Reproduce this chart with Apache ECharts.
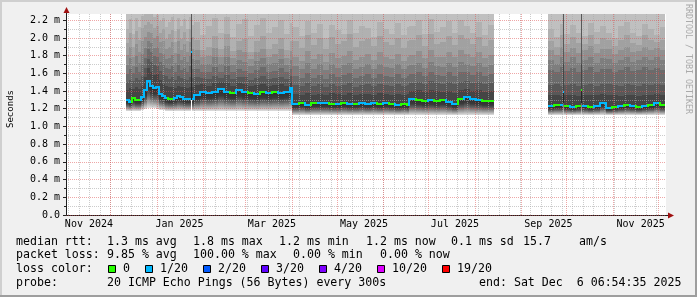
<!DOCTYPE html>
<html><head><meta charset="utf-8">
<script src="https://cdn.jsdelivr.net/npm/echarts@6/dist/echarts.min.js"></script>
<style>html,body{margin:0;padding:0;background:#f0f0f0}#c{width:697px;height:297px}</style>
</head><body><div id="c"></div>
<script>
// time in days since 2024-11-01 06:54:35 (graph spans 400 days, end 2025-12-06 06:54:35)
const days = [40,42,44,46,48,50,52,54,56,58,60,62,64,66,68,70,72,74,76,78,80,82,83,84,
  85.3,89,93,97,101,105,109,113,117,121,125,129,133,137,141,145,149,
  150.7,155,159,163,167,171,175,179,183,187,191,195,199,203,207,211,215,219,223,227,
  228.7,233,237,241,245,249,253,257,261,265,269,273,277,281,
  285.3,
  321.3,325,329,331.3,332,336,340,343.3,344,348,352,356,360,364,368,372,376,380,384,388,392,396,
  399.3];
// median rtt (ms)
const median = [1.30,1.28,1.32,1.30,1.30,1.33,1.41,1.51,1.46,1.43,1.45,1.37,1.34,1.32,1.31,1.31,1.32,1.34,1.33,1.31,1.31,1.31,1.84,1.31,
  1.36,1.39,1.38,1.39,1.42,1.39,1.38,1.41,1.39,1.38,1.37,1.39,1.38,1.39,1.38,1.39,1.43,
  1.25,1.26,1.24,1.27,1.26,1.26,1.25,1.25,1.26,1.25,1.25,1.26,1.25,1.26,1.25,1.26,1.25,1.24,1.25,1.24,
  1.31,1.30,1.29,1.30,1.29,1.30,1.28,1.25,1.31,1.33,1.31,1.30,1.29,1.29,
  null,
  1.23,1.24,1.24,1.39,1.23,1.22,1.23,1.41,1.23,1.22,1.23,1.27,1.21,1.22,1.23,1.24,1.23,1.22,1.23,1.24,1.27,1.24,
  null];
// loss class index (0 = no loss, 1 = 1/20)
const loss = [1,1,0,0,0,1,1,1,1,1,1,1,1,1,0,0,1,1,1,1,1,1,1,1,
  1,1,1,1,1,1,0,1,1,0,1,0,1,0,1,1,1,
  1,0,1,0,1,1,0,1,0,1,0,1,1,1,0,1,0,1,0,0,
  1,0,0,1,0,0,1,1,0,1,1,1,0,0,
  null,
  1,0,1,1,0,1,0,0,1,0,1,1,1,0,1,0,1,0,1,0,1,0,
  null];
// fastest ping (ms)
const minRtt = [1.18,1.18,1.18,1.18,1.18,1.19,1.20,1.21,1.21,1.21,1.20,1.19,1.19,1.18,1.18,1.18,1.18,1.18,1.18,1.18,1.18,1.18,1.30,1.18,
  1.18,1.18,1.18,1.18,1.18,1.18,1.18,1.18,1.18,1.18,1.18,1.18,1.18,1.18,1.18,1.18,1.18,
  1.13,1.13,1.13,1.13,1.13,1.13,1.13,1.13,1.13,1.13,1.13,1.13,1.13,1.13,1.13,1.13,1.13,1.13,1.13,1.13,
  1.13,1.13,1.13,1.13,1.13,1.13,1.13,1.13,1.13,1.13,1.13,1.13,1.13,1.13,
  null,
  1.13,1.13,1.13,1.13,1.13,1.13,1.13,1.13,1.13,1.13,1.13,1.13,1.13,1.13,1.13,1.13,1.13,1.13,1.13,1.13,1.13,1.13,
  null];
// upper smoke band edges (slower pings), outer (3) to inner (9)
const smoke3 = [2.10,2.21,2.04,2.23,2.12,2.25,2.27,2.30,2.28,2.24,2.26,2.19,2.23,2.12,2.18,2.24,2.08,2.22,2.13,2.21,2.10,2.24,2.40,2.15,
  2.18,2.03,2.14,2.22,2.05,2.24,2.01,2.16,2.21,2.02,2.15,2.23,2.06,2.12,2.20,2.04,2.17,
  2.12,2.02,2.19,2.06,2.16,2.00,2.15,2.09,2.04,2.20,2.05,2.14,2.11,2.01,2.18,2.10,2.04,2.17,2.03,2.12,
  2.14,2.20,2.04,2.21,2.07,2.12,2.19,2.05,2.20,2.13,2.06,2.18,2.03,2.15,
  null,
  2.10,2.01,2.16,2.40,2.04,2.15,2.06,2.40,2.02,2.17,2.07,2.13,2.05,2.00,2.14,2.18,2.05,2.02,2.16,2.10,2.03,2.12,
  null];
const smoke4 = [1.94,2.05,1.90,2.08,1.98,2.11,2.15,2.18,2.16,2.11,2.14,2.06,2.10,1.99,2.04,2.09,1.95,2.10,1.99,2.07,1.96,2.10,2.40,2.01,
  1.98,1.86,1.90,2.02,1.88,2.04,1.85,1.97,1.99,1.84,1.96,2.02,1.87,1.93,2.00,1.86,1.97,
  1.96,1.89,2.03,1.92,2.00,1.87,2.01,1.93,1.97,2.04,1.90,1.97,1.99,1.91,2.02,1.95,1.92,2.00,1.89,1.96,
  1.98,2.03,1.91,2.04,1.93,1.95,2.02,1.92,2.03,1.99,1.93,2.01,1.91,1.98,
  null,
  1.97,1.90,2.03,2.40,1.93,2.01,1.94,2.40,1.93,2.03,1.93,2.00,1.98,1.91,1.98,2.03,1.94,1.92,2.03,1.98,1.95,1.98,
  null];
const smoke5 = [1.81,1.90,1.78,1.93,1.84,1.96,2.01,2.07,2.05,2.00,2.02,1.95,1.96,1.87,1.90,1.95,1.83,1.96,1.86,1.93,1.84,1.95,2.40,1.87,
  1.86,1.78,1.80,1.89,1.78,1.91,1.77,1.86,1.84,1.76,1.84,1.88,1.78,1.82,1.87,1.77,1.85,
  1.79,1.74,1.85,1.76,1.82,1.73,1.83,1.77,1.80,1.85,1.75,1.78,1.82,1.75,1.84,1.79,1.76,1.82,1.74,1.79,
  1.81,1.85,1.77,1.86,1.79,1.79,1.84,1.78,1.86,1.82,1.79,1.84,1.77,1.81,
  null,
  1.86,1.81,1.90,2.40,1.84,1.89,1.83,2.40,1.86,1.91,1.83,1.88,1.87,1.82,1.86,1.90,1.84,1.85,1.90,1.86,1.89,1.86,
  null];
const smoke6 = [1.69,1.77,1.68,1.80,1.72,1.82,1.89,1.96,1.94,1.89,1.90,1.83,1.82,1.76,1.77,1.81,1.72,1.82,1.75,1.79,1.73,1.80,2.40,1.76,
  1.75,1.70,1.71,1.78,1.71,1.79,1.69,1.75,1.73,1.68,1.74,1.77,1.70,1.72,1.76,1.69,1.75,
  1.68,1.65,1.72,1.65,1.70,1.64,1.71,1.66,1.69,1.72,1.65,1.67,1.71,1.65,1.71,1.67,1.66,1.70,1.65,1.68,
  1.69,1.72,1.66,1.73,1.68,1.67,1.72,1.67,1.73,1.71,1.68,1.72,1.67,1.69,
  null,
  1.75,1.71,1.78,2.40,1.73,1.78,1.72,2.40,1.75,1.79,1.72,1.77,1.76,1.72,1.75,1.78,1.73,1.75,1.79,1.75,1.78,1.75,
  null];
const smoke7 = [1.59,1.65,1.60,1.67,1.62,1.69,1.77,1.87,1.84,1.80,1.79,1.73,1.70,1.66,1.65,1.68,1.62,1.69,1.64,1.66,1.62,1.68,2.40,1.65,
  1.65,1.62,1.62,1.67,1.62,1.68,1.61,1.65,1.63,1.60,1.64,1.67,1.61,1.63,1.66,1.61,1.65,
  1.57,1.55,1.60,1.55,1.58,1.54,1.59,1.56,1.58,1.60,1.55,1.57,1.59,1.55,1.59,1.57,1.56,1.59,1.55,1.57,
  1.59,1.61,1.57,1.62,1.58,1.57,1.61,1.57,1.62,1.61,1.58,1.61,1.57,1.59,
  null,
  1.64,1.61,1.67,2.40,1.63,1.66,1.62,2.40,1.64,1.67,1.62,1.65,1.65,1.62,1.64,1.67,1.63,1.64,1.67,1.64,1.66,1.64,
  null];
const smoke8 = [1.50,1.53,1.51,1.55,1.52,1.57,1.66,1.76,1.73,1.69,1.68,1.63,1.58,1.57,1.54,1.56,1.53,1.57,1.55,1.54,1.53,1.56,2.30,1.55,
  1.56,1.55,1.54,1.57,1.55,1.58,1.54,1.56,1.56,1.53,1.55,1.57,1.54,1.55,1.56,1.54,1.57,
  1.47,1.46,1.49,1.46,1.48,1.45,1.48,1.46,1.47,1.49,1.45,1.47,1.48,1.46,1.48,1.47,1.46,1.48,1.46,1.47,
  1.49,1.50,1.48,1.51,1.49,1.48,1.50,1.48,1.50,1.51,1.49,1.50,1.48,1.49,
  null,
  1.47,1.48,1.46,2.30,1.47,1.48,1.46,2.30,1.47,1.48,1.46,1.48,1.48,1.47,1.46,1.48,1.47,1.46,1.48,1.47,1.48,1.47,
  null];
const smoke9 = [1.41,1.43,1.42,1.44,1.42,1.46,1.56,1.66,1.62,1.58,1.59,1.52,1.48,1.46,1.44,1.45,1.43,1.46,1.45,1.44,1.43,1.45,2.00,1.44,
  1.47,1.48,1.46,1.49,1.50,1.49,1.46,1.49,1.48,1.46,1.47,1.48,1.46,1.47,1.48,1.46,1.50,
  1.37,1.36,1.38,1.36,1.37,1.35,1.38,1.37,1.36,1.38,1.36,1.37,1.37,1.36,1.38,1.37,1.36,1.37,1.36,1.37,
  1.40,1.41,1.39,1.41,1.40,1.39,1.40,1.38,1.41,1.42,1.40,1.41,1.39,1.40,
  null,
  1.35,1.36,1.34,1.70,1.35,1.36,1.34,1.70,1.35,1.36,1.35,1.37,1.36,1.35,1.34,1.36,1.35,1.34,1.36,1.35,1.37,1.35,
  null];
// short dense spikes
const spikeDays = [83, 331.3, 343.3];
const spikeEnd = [84, 332, 344];
const spikeLow = [1.30, 1.26, 1.26];
const spikeMedian = [1.84, 1.39, 1.41];
const spikeLoss = [1, 1, 0];

const yTicks = [0,0.2,0.4,0.6,0.8,1.0,1.2,1.4,1.6,1.8,2.0,2.2];
const yMinorTicks = [0.1,0.3,0.5,0.7,0.9,1.1,1.3,1.5,1.7,1.9,2.1];
const xLabels = ['Nov 2024','Jan 2025','Mar 2025','May 2025','Jul 2025','Sep 2025','Nov 2025'];
const xLabelDays = [15.3, 75.7, 137.3, 198.7, 259.3, 321.6, 383.1];
const monthDays = [29.71,60.71,91.71,119.71,150.71,180.71,211.71,241.71,272.71,303.71,333.71,364.71,394.71];
const weekDays = []; for (let d = 1.71; d < 400; d += 7) weekDays.push(+d.toFixed(2));
const lossLabels = ['0','1/20','2/20','3/20','4/20','10/20','19/20'];
const lossColors = ['#26ff00','#00b8ff','#0059ff','#5e00ff','#7e00ff','#dd00ff','#ff0000'];

const Y_MAX = 2.27;
const SMOKE_TOP = '#c0c0c0';
const SMOKE_COLORS = ['#b1b1b1','#a1a1a1','#909090','#7e7e7e','#6b6b6b','#585858','#454545'];
const FONT = '"DejaVu Sans Mono", monospace';

const smokeData = [], lineData = [];
const isSpike = i => spikeDays.indexOf(days[i]) >= 0;
for (let i = 0; i < days.length - 1; i++) {
  if (median[i] == null) continue;
  smokeData.push([days[i], days[i+1], median[i], minRtt[i], smoke3[i], smoke4[i], smoke5[i], smoke6[i], smoke7[i], smoke8[i], smoke9[i]]);
  if (isSpike(i)) continue;
  let prev = NaN;
  if (i > 0 && median[i-1] != null && !isSpike(i-1)) prev = median[i-1];
  lineData.push([days[i], days[i+1], median[i], loss[i], prev]);
}
const spikeData = spikeDays.map((d, i) => [d, spikeEnd[i], spikeMedian[i], spikeLow[i], spikeLoss[i]]);

function lowGrad() {
  return {type:'linear', x:0, y:0, x2:0, y2:1, colorStops:[
    {offset:0, color:'#2e2e2e'},{offset:0.3, color:'#3a3a3a'},{offset:0.55, color:'#686868'},
    {offset:0.8, color:'#a8a8a8'},{offset:1, color:'#e0e0e0'}]};
}
function renderSmoke(params, api) {
  const d0 = api.value(0), d1 = api.value(1);
  const xa = Math.round(api.coord([d0, 0])[0]);
  const xb = Math.round(api.coord([d1, 0])[0]);
  const w = Math.max(1, xb - xa);
  const Y = v => Math.round(api.coord([d0, Math.min(v, Y_MAX)])[1]);
  const yTop = Y(Y_MAX), yMed = Y(api.value(2)), yMin = Y(api.value(3));
  const kids = [{type:'rect', shape:{x:xa, y:yTop, width:w, height:yMed - yTop}, style:{fill:SMOKE_TOP}}];
  for (let k = 0; k < 7; k++) {
    const yu = Y(api.value(4 + k));
    if (yMed > yu) kids.push({type:'rect', shape:{x:xa, y:yu, width:w, height:yMed - yu}, style:{fill:SMOKE_COLORS[k]}});
  }
  if (yMin > yMed) kids.push({type:'rect', shape:{x:xa, y:yMed, width:w, height:yMin - yMed}, style:{fill:lowGrad()}});
  return {type:'group', children:kids};
}
function renderLine(params, api) {
  const d0 = api.value(0), d1 = api.value(1);
  const xa = Math.round(api.coord([d0, 0])[0]);
  const xb = Math.round(api.coord([d1, 0])[0]);
  const y = Math.round(api.coord([d0, api.value(2)])[1]);
  const col = lossColors[api.value(3)];
  const kids = [{type:'line', shape:{x1:xa, y1:y, x2:xb, y2:y}, style:{stroke:col, lineWidth:2}}];
  const p = api.value(4);
  if (!isNaN(p)) {
    const yp = Math.round(api.coord([d0, p])[1]);
    if (yp !== y) kids.push({type:'line', shape:{x1:xa, y1:Math.min(y, yp) - 1, x2:xa, y2:Math.max(y, yp) + 1}, style:{stroke:col, lineWidth:2}});
  }
  return {type:'group', children:kids};
}
function renderSpike(params, api) {
  const d0 = api.value(0), d1 = api.value(1);
  const xa = Math.round(api.coord([d0, 0])[0]);
  const xb = Math.round(api.coord([d1, 0])[0]);
  const w = Math.max(1, xb - xa);
  const yMed = Math.round(api.coord([d0, api.value(2)])[1]);
  const yLow = Math.round(api.coord([d0, api.value(3)])[1]);
  return {type:'group', children:[
    {type:'rect', shape:{x:xa, y:yMed, width:w, height:yLow - yMed}, style:{fill:'#262626'}},
    {type:'rect', shape:{x:xa, y:yMed - 1, width:w, height:2}, style:{fill:lossColors[api.value(4)]}}
  ]};
}

const gridLine = (color) => ({show:true, lineStyle:{color:color, width:1, type:'dotted'}});
const hiddenAxis = {axisLine:{show:false}, axisLabel:{show:false}};

const option = {
  animation:false,
  backgroundColor:'#f0f0f0',
  grid:{left:66, top:14, width:600, height:201, show:true, backgroundColor:'#ffffff', borderWidth:0, containLabel:false, outerBoundsMode:'none'},
  xAxis:[
    {type:'value', min:0, max:400, position:'bottom', z:3,
     axisLine:{show:true, lineStyle:{color:'#202020', width:1}},
     axisTick:{show:false, customValues:xLabelDays},
     axisLabel:{customValues:xLabelDays, margin:4, color:'#000', fontFamily:FONT, fontSize:10,
       formatter:v => xLabels[xLabelDays.indexOf(v)] || ''},
     splitLine:{show:false}},
    Object.assign({type:'value', min:0, max:400, position:'bottom', z:3,
     axisTick:{show:false, customValues:weekDays}, splitLine:gridLine('rgba(170,170,170,0.6)')}, hiddenAxis),
    Object.assign({type:'value', min:0, max:400, position:'bottom', z:3,
     axisTick:{show:false, customValues:monthDays}, splitLine:gridLine('rgba(222,80,80,0.5)')}, hiddenAxis)
  ],
  yAxis:[
    {type:'value', min:0, max:Y_MAX, position:'left', z:4,
     axisLine:{show:true, lineStyle:{color:'#202020', width:1}},
     axisTick:{show:true, length:3, customValues:yTicks, lineStyle:{color:'#202020'}},
     axisLabel:{customValues:yTicks, margin:6, color:'#000', fontFamily:FONT, fontSize:10,
       formatter:v => v === 0 ? '0.0' : v.toFixed(1) + ' m'},
     splitLine:gridLine('rgba(222,80,80,0.5)')},
    {type:'value', min:0, max:Y_MAX, position:'left', z:3,
     axisLine:{show:false}, axisLabel:{show:false},
     axisTick:{show:true, length:2, customValues:yMinorTicks, lineStyle:{color:'#202020'}},
     splitLine:gridLine('rgba(170,170,170,0.6)')}
  ],
  series:[
    {type:'custom', name:'smoke', xAxisIndex:0, yAxisIndex:0, z:1, clip:true, silent:true,
     renderItem:renderSmoke, data:smokeData},
    {type:'custom', name:'spikes', xAxisIndex:0, yAxisIndex:0, z:5, clip:true, silent:true,
     renderItem:renderSpike, data:spikeData},
    {type:'custom', name:'median', xAxisIndex:0, yAxisIndex:0, z:6, clip:true, silent:true,
     renderItem:renderLine, data:lineData}
  ],
  graphic:[]
};

// frame, arrows and texts
const G = option.graphic;
G.push({type:'rect', z:100, shape:{x:0, y:0, width:697, height:2}, style:{fill:'#cfcfcf'}});
G.push({type:'rect', z:100, shape:{x:0, y:0, width:2, height:297}, style:{fill:'#cfcfcf'}});
G.push({type:'rect', z:100, shape:{x:0, y:295, width:697, height:2}, style:{fill:'#9e9e9e'}});
G.push({type:'rect', z:100, shape:{x:695, y:0, width:2, height:297}, style:{fill:'#9e9e9e'}});
G.push({type:'line', z:100, shape:{x1:66.5, y1:14, x2:66.5, y2:11}, style:{stroke:'#202020', lineWidth:1}});
G.push({type:'line', z:100, shape:{x1:666, y1:215.5, x2:669, y2:215.5}, style:{stroke:'#202020', lineWidth:1}});
G.push({type:'polygon', z:100, shape:{points:[[66.5,7],[63.5,13],[69.5,13]]}, style:{fill:'#a01010'}});
G.push({type:'polygon', z:100, shape:{points:[[674,215.5],[668,212.5],[668,218.5]]}, style:{fill:'#a01010'}});
G.push({type:'text', z:100, x:10.5, y:109, rotation:Math.PI/2,
  style:{text:'Seconds', font:'9px ' + FONT, fill:'#000', align:'center', verticalAlign:'middle'}});
G.push({type:'text', z:100, x:688, y:59, rotation:-Math.PI/2,
  style:{text:'RRDTOOL / TOBI OETIKER', font:'8.3px ' + FONT, fill:'#aaaaaa', align:'center', verticalAlign:'middle'}});

const LFONT = '11.6px ' + FONT;
const CH = 7;
const rows = [
  [241.5, [[16,'median rtt:'],[107,'1.3 ms avg'],[193,'1.8 ms max'],[279,'1.2 ms min'],[366,'1.2 ms now'],[451,'0.1 ms sd'],[523,'15.7'],[579,'am/s']]],
  [255.2, [[16,'packet loss:'],[107,'9.85 % avg'],[193,'100.00 % max'],[293,'0.00 % min'],[380,'0.00 % now']]],
  [269, [[16,'loss color:']]],
  [282.8, [[16,'probe:'],[107,'20 ICMP Echo Pings (56 Bytes) every 300s'],[479,'end: Sat Dec  6 06:54:35 2025']]]
];
rows.forEach(([y, chunks]) => chunks.forEach(([x, t]) => G.push({type:'text', z:100, x:x, y:y,
  style:{text:t, font:LFONT, fill:'#000', verticalAlign:'middle'}})));
let cur = 108;
lossLabels.forEach((lab, i) => {
  G.push({type:'rect', z:100, shape:{x:cur + 0.5, y:265.5, width:7, height:7}, style:{fill:lossColors[i], stroke:'#000', lineWidth:1}});
  G.push({type:'text', z:100, x:cur + 15, y:269, style:{text:lab, font:LFONT, fill:'#000', verticalAlign:'middle'}});
  cur = cur + 15 + lab.length * CH + 15;
});

const chart = echarts.init(document.getElementById('c'), null, {renderer:'canvas', width:697, height:297});
chart.setOption(option);
</script>
</body></html>
